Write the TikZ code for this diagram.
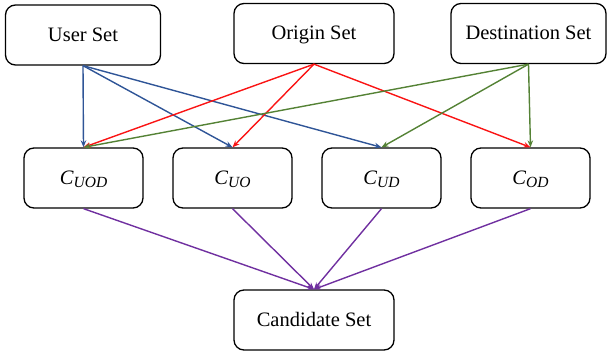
\documentclass[tikz,border=0pt]{standalone}
\usepackage{fontspec}
\setmainfont{Liberation Serif}
\usetikzlibrary{arrows.meta}
\definecolor{eblue}{RGB}{47,85,151}
\definecolor{ered}{RGB}{250,20,20}
\definecolor{egreen}{RGB}{84,130,53}
\definecolor{epurple}{RGB}{112,48,160}
\newcommand{\csub}[1]{\textit{C}\raisebox{-0.35ex}{\fontsize{15.5}{15.5}\selectfont\itshape #1}}
\begin{document}
\begin{tikzpicture}[x=1pt,y=-1pt,
  setbox/.style={draw=black,line width=1.3pt,rounded corners=10pt,minimum width=155pt,minimum height=60pt,inner sep=0pt,text height=15.5pt,text depth=2.5pt,font=\fontsize{20.5}{24}\selectfont},
  cbox/.style={setbox,minimum width=119pt},
  link/.style={line width=1.4pt,-{Stealth[length=7pt,width=5.5pt]}}]
\useasboundingbox (0,0) rectangle (607,355);
\node[setbox] (user) at (83,35) {User Set};
\node[setbox,minimum width=160pt] (orig) at (314,33.5) {Origin Set};
\node[setbox] (dest) at (528.5,33.5) {Destination Set};
\node[cbox] (cuod) at (83.5,178) {\csub{UOD}};
\node[cbox] (cuo) at (232.5,178) {\csub{UO}};
\node[cbox] (cud) at (381.5,178) {\csub{UD}};
\node[cbox] (cod) at (530.5,178) {\csub{OD}};
\node[setbox,minimum width=160pt] (cand) at (314,320) {Candidate Set};
\draw[link,eblue] (user.south) -- (cuod.north);
\draw[link,eblue] (user.south) -- (cuo.north);
\draw[link,eblue] (user.south) -- (cud.north);
\draw[link,ered] (orig.south) -- (cuod.north);
\draw[link,ered] (orig.south) -- (cuo.north);
\draw[link,ered] (orig.south) -- (cod.north);
\draw[link,egreen] (dest.south) -- (cuod.north);
\draw[link,egreen] (dest.south) -- (cud.north);
\draw[link,egreen] (dest.south) -- (cod.north);
\draw[link,epurple] (cuod.south) -- (cand.north);
\draw[link,epurple] (cuo.south) -- (cand.north);
\draw[link,epurple] (cud.south) -- (cand.north);
\draw[link,epurple] (cod.south) -- (cand.north);
\end{tikzpicture}
\end{document}
